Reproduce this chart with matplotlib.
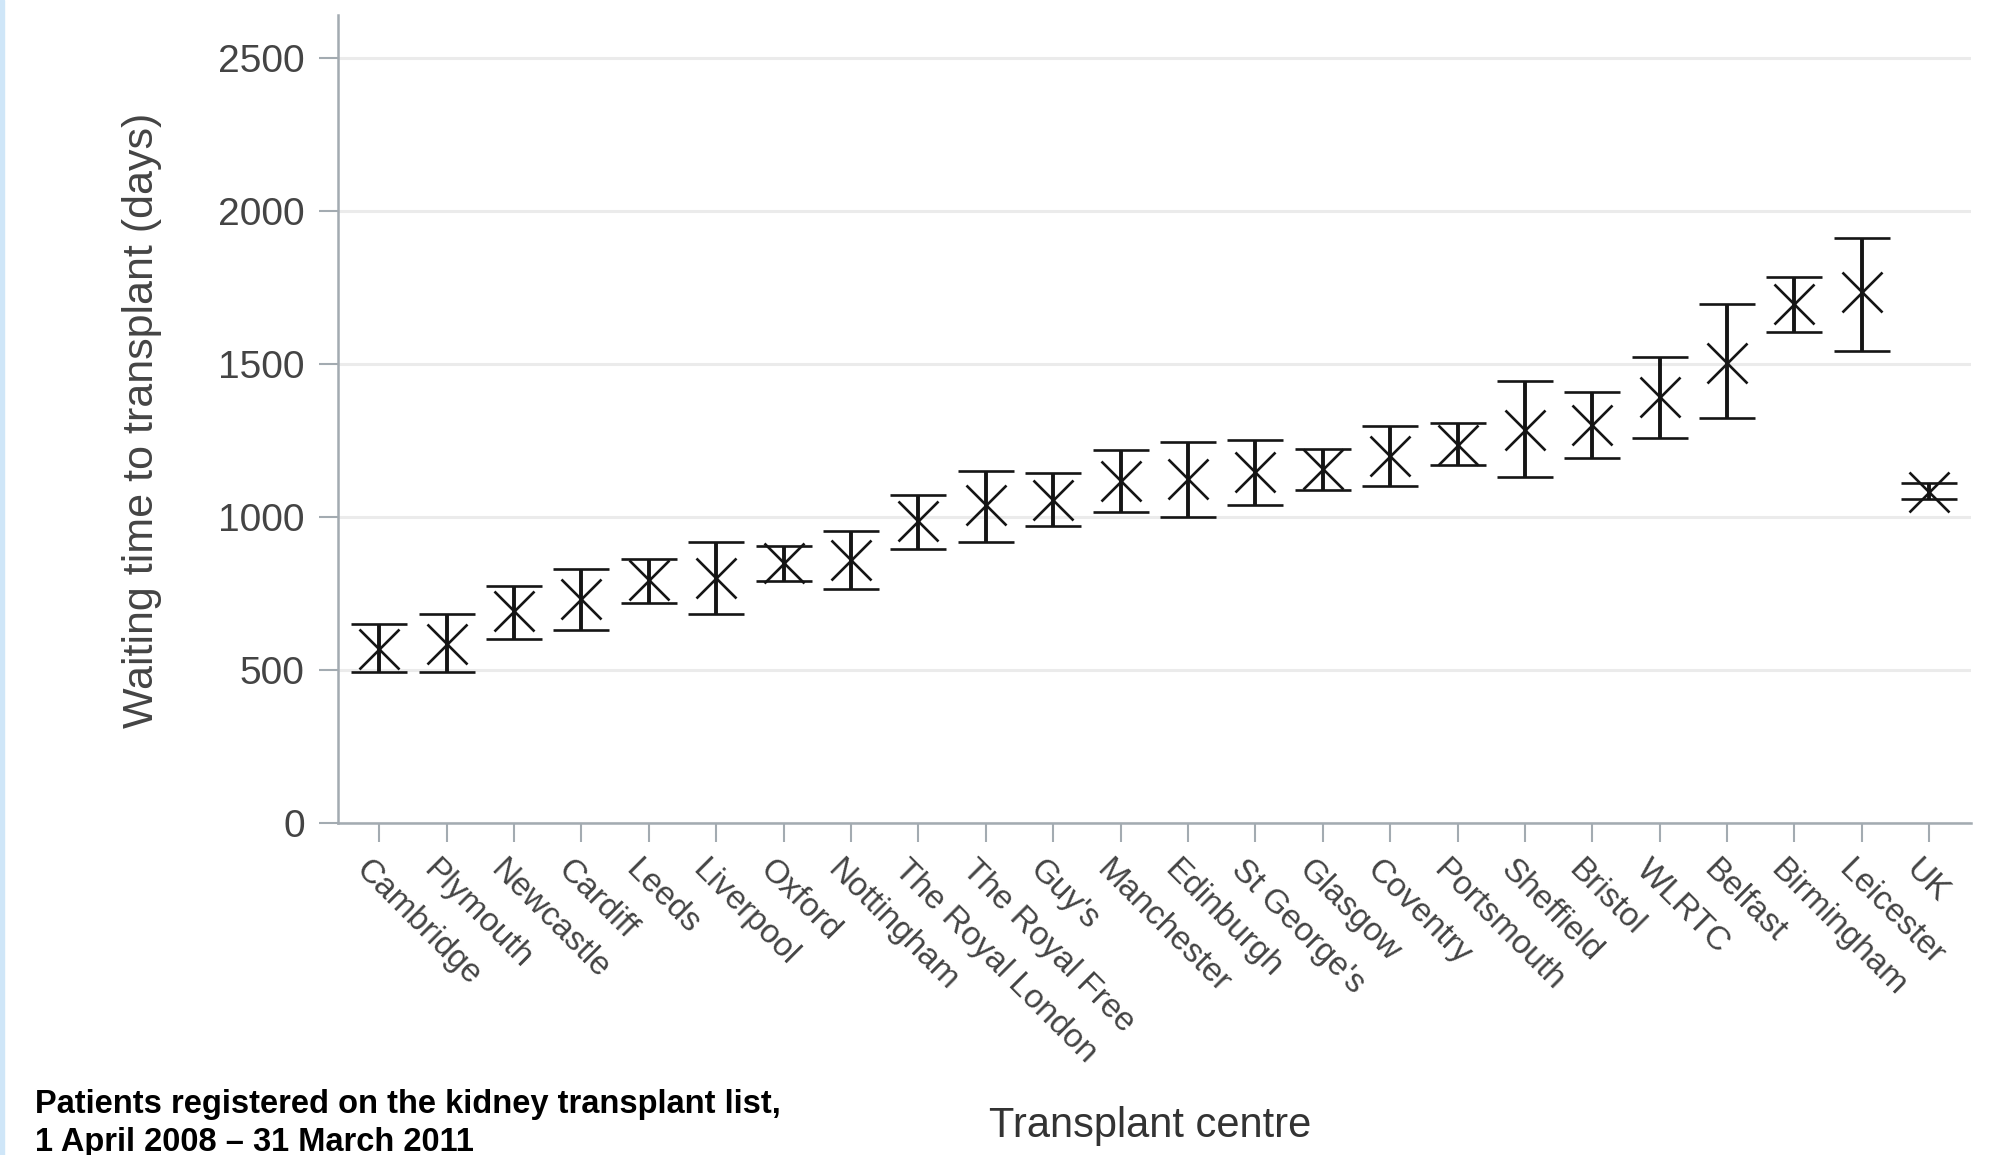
import numpy as np
import matplotlib.pyplot as plt
from matplotlib.patches import Rectangle
import matplotlib.transforms as mtransforms

centres = ["Cambridge", "Plymouth", "Newcastle", "Cardiff", "Leeds", "Liverpool",
           "Oxford", "Nottingham", "The Royal London", "The Royal Free", "Guy's",
           "Manchester", "Edinburgh", "St George's", "Glasgow", "Coventry",
           "Portsmouth", "Sheffield", "Bristol", "WLRTC", "Belfast", "Birmingham",
           "Leicester", "UK"]
median_days = [568, 585, 693, 731, 793, 800, 850, 858, 987, 1038, 1057, 1117,
               1124, 1147, 1156, 1198, 1237, 1285, 1300, 1393, 1505, 1695, 1734, 1082]
lower_ci = [494, 495, 603, 632, 718, 684, 792, 766, 897, 919, 972, 1016,
            999, 1038, 1090, 1101, 1169, 1130, 1194, 1257, 1323, 1605, 1544, 1058]
upper_ci = [649, 682, 775, 829, 863, 918, 907, 956, 1072, 1152, 1144, 1219,
            1244, 1253, 1222, 1298, 1307, 1445, 1410, 1524, 1695, 1786, 1911, 1110]
yticks = [0, 500, 1000, 1500, 2000, 2500]

median_days = np.array(median_days)
err = [median_days - np.array(lower_ci), np.array(upper_ci) - median_days]
x = np.arange(len(centres))

axis_grey = "#a3abb1"
text_grey = "#444444"

fig = plt.figure(figsize=(20.09, 11.55), dpi=100)
ax = fig.add_axes([338/2009, 1 - 823/1155, 1633/2009, 808/1155])

ax.errorbar(x, median_days, yerr=err, fmt="x", ms=29, mew=1.9, color="#151515",
            ecolor="#151515", elinewidth=2.8, capsize=20, capthick=3.4, zorder=3)

ax.set_xlim(-0.613, 23.62)
ax.set_ylim(0, 2641)
ax.set_yticks(yticks)
ax.set_xticks(x)
ax.yaxis.grid(True, color="#ebebeb", linewidth=2.2)
ax.set_axisbelow(True)

for s in ["top", "right"]:
    ax.spines[s].set_visible(False)
for s in ["left", "bottom"]:
    ax.spines[s].set_color(axis_grey)
    ax.spines[s].set_linewidth(1.8)

ax.tick_params(axis="both", color=axis_grey, width=1.5, length=14, labelcolor=text_grey)
ax.tick_params(axis="y", pad=10, labelsize=28)
ax.tick_params(axis="x", pad=6, labelsize=24)

for lab in ax.set_xticklabels(centres, rotation=-45, ha="left", va="top",
                              rotation_mode="anchor", family="Liberation Sans"):
    lab.set_transform(lab.get_transform() + mtransforms.ScaledTranslation(-8/100, -3/100, fig.dpi_scale_trans))
for lab in ax.get_yticklabels():
    lab.set_family("Liberation Sans")

fig.text(142/2009, 1 - 420/1155, "Waiting time to transplant (days)", rotation=90,
         ha="center", va="center", fontsize=31, color=text_grey, family="Liberation Sans")
fig.text(1150/2009, 1 - 1137/1155, "Transplant centre", ha="center", va="baseline",
         fontsize=30, color="#333333", family="Liberation Sans")
fig.text(35/2009, 1 - 1089/1155, "Patients registered on the kidney transplant list,\n1 April 2008 \u2013 31 March 2011",
         ha="left", va="top", fontsize=23.5, fontweight="bold", color="black",
         family="Liberation Sans", linespacing=1.3)

fig.patches.append(Rectangle((0, 0), 4/2009, 1, transform=fig.transFigure,
                             color="#cfe6f8", zorder=0))

plt.savefig("out.png", dpi=100)
